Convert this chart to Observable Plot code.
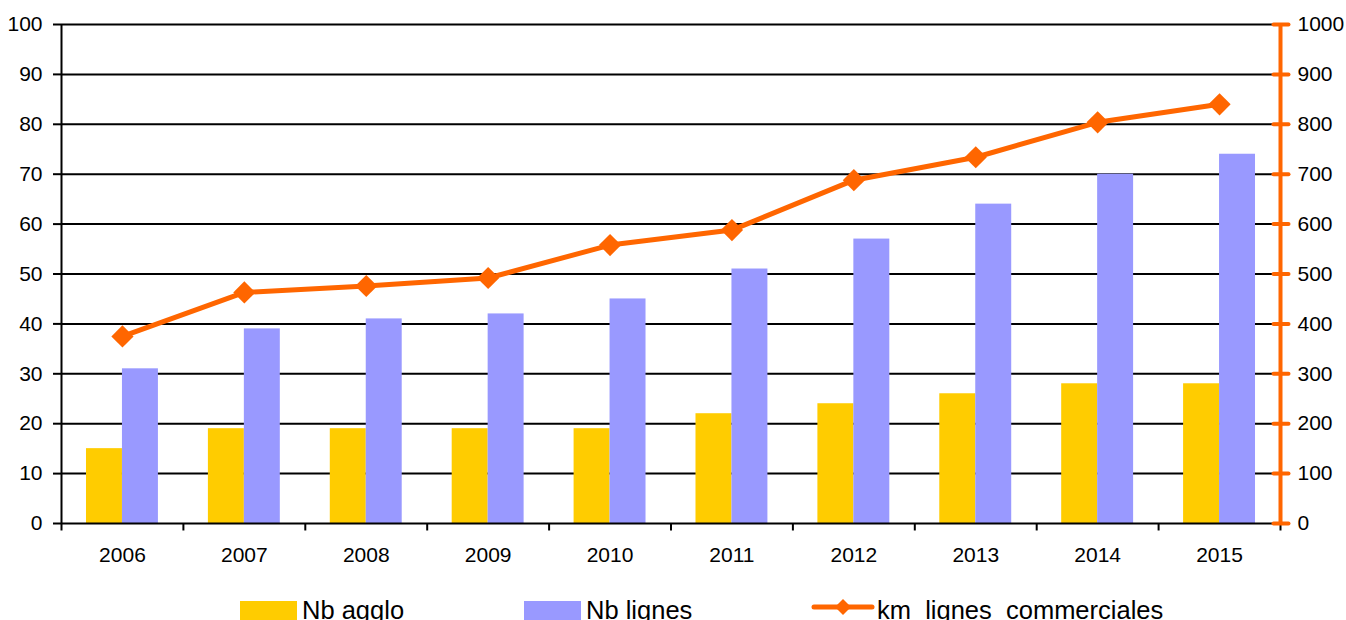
<!DOCTYPE html>
<html>
<head>
<meta charset="utf-8">
<script src="https://cdn.jsdelivr.net/npm/d3@7"></script>
<script src="https://cdn.jsdelivr.net/npm/@observablehq/plot@0.6"></script>
<style>
  html, body { margin: 0; padding: 0; background: #fff; overflow: hidden; }
  #chart svg { display: block; }
  #legend { display: block; }
</style>
</head>
<body>
<div id="chart"></div>
<svg id="legend" width="1346" height="35"></svg>
<script>
const years = [2006, 2007, 2008, 2009, 2010, 2011, 2012, 2013, 2014, 2015];
const nbAgglo = [15, 19, 19, 19, 19, 22, 24, 26, 28, 28];
const nbLignes = [31, 39, 41, 42, 45, 51, 57, 64, 70, 74];
const kmLignes = [375, 463, 476, 492, 558, 588, 688, 734, 804, 840];
const leftTicks = [0, 10, 20, 30, 40, 50, 60, 70, 80, 90, 100];
const rightTicks = [0, 100, 200, 300, 400, 500, 600, 700, 800, 900, 1000];
const seriesNames = ["Nb agglo", "Nb lignes", "km  lignes  commerciales"];
const colors = ["#FFCC00", "#9999FF", "#FF6600"];

const data = years.map((y, i) => ({year: y, agglo: nbAgglo[i], lignes: nbLignes[i], km: kmLignes[i]}));

const W = 1346, H = 585, mL = 61, mR = 66;
const step = (W - mL - mR) / years.length;
const half = step / 2;
const bw = step * 0.295;

const chart = Plot.plot({
  width: W, height: H,
  marginLeft: mL, marginRight: mR, marginTop: 24, marginBottom: 62,
  style: {fontFamily: "'Liberation Sans', Arial, sans-serif", fontSize: "21px", color: "#000", background: "#fff", overflow: "visible"},
  x: {domain: years, paddingInner: 0.705, paddingOuter: 0.3525, round: false, axis: null, label: null},
  y: {domain: [0, 100], axis: null, label: null},
  marks: [
    Plot.ruleY(leftTicks.filter(d => d > 0), {stroke: "#000", strokeWidth: 2}),
    Plot.barY(data, {x: "year", y: "agglo", fill: colors[0], dx: -bw / 2}),
    Plot.barY(data, {x: "year", y: "lignes", fill: colors[1], dx: bw / 2}),
    Plot.ruleY([0], {stroke: "#000", strokeWidth: 2}),
    Plot.ruleX([years[0]], {x: d => d, y1: 0, y2: 100, dx: -half, stroke: "#000", strokeWidth: 2}),
    Plot.ruleX(years, {x: d => d, y1: 0, y2: -1.5, dx: -half, stroke: "#000", strokeWidth: 2}),
    Plot.ruleX([years[years.length - 1]], {x: d => d, y1: 0, y2: -1.5, dx: half, stroke: "#000", strokeWidth: 2}),
    Plot.axisY({anchor: "left", ticks: leftTicks, tickSize: 8, tickPadding: 11, strokeWidth: 2, tickFormat: d => String(d), label: null}),
    Plot.axisX({anchor: "bottom", tickSize: 0, tickPadding: 24, tickFormat: d => String(d), label: null}),
    Plot.ruleX([years[years.length - 1]], {x: d => d, y1: 0, y2: 100, dx: half, stroke: colors[2], strokeWidth: 4}),
    Plot.axisY({anchor: "right", ticks: leftTicks, tickSize: 15, dx: -7.5, stroke: colors[2], strokeWidth: 4, strokeLinecap: "round", tickFormat: () => "", label: null}),
    Plot.axisY({anchor: "right", ticks: leftTicks, tickSize: 0, tickPadding: 17, tickFormat: (d, i) => String(rightTicks[i]), label: null}),
    Plot.lineY(data, {x: "year", y: d => d.km / 10, stroke: colors[2], strokeWidth: 5}),
    Plot.dot(data, {x: "year", y: d => d.km / 10, symbol: "diamond2", r: 10, fill: colors[2], stroke: "none"})
  ]
});
document.getElementById("chart").appendChild(chart);

// Legend
const lg = d3.select("#legend");
const fs = 25.5, base = 34;
const font = "'Liberation Sans', Arial, sans-serif";
lg.append("rect").attr("x", 240).attr("y", 16).attr("width", 57).attr("height", 30).attr("fill", colors[0]);
lg.append("text").attr("x", 302).attr("y", base).attr("font-size", fs).attr("font-family", font).text(seriesNames[0]);
lg.append("rect").attr("x", 524).attr("y", 16).attr("width", 57).attr("height", 30).attr("fill", colors[1]);
lg.append("text").attr("x", 586).attr("y", base).attr("font-size", fs).attr("font-family", font).text(seriesNames[1]);
lg.append("line").attr("x1", 814).attr("x2", 872).attr("y1", 22).attr("y2", 22).attr("stroke", colors[2]).attr("stroke-width", 5).attr("stroke-linecap", "round");
lg.append("path").attr("d", d3.symbol(d3.symbolDiamond2, 165)()).attr("transform", "translate(843,22)").attr("fill", colors[2]);
lg.append("text").attr("x", 877).attr("y", base).attr("font-size", fs).attr("font-family", font).attr("xml:space", "preserve").style("white-space", "pre").text(seriesNames[2]);
</script>
</body>
</html>
